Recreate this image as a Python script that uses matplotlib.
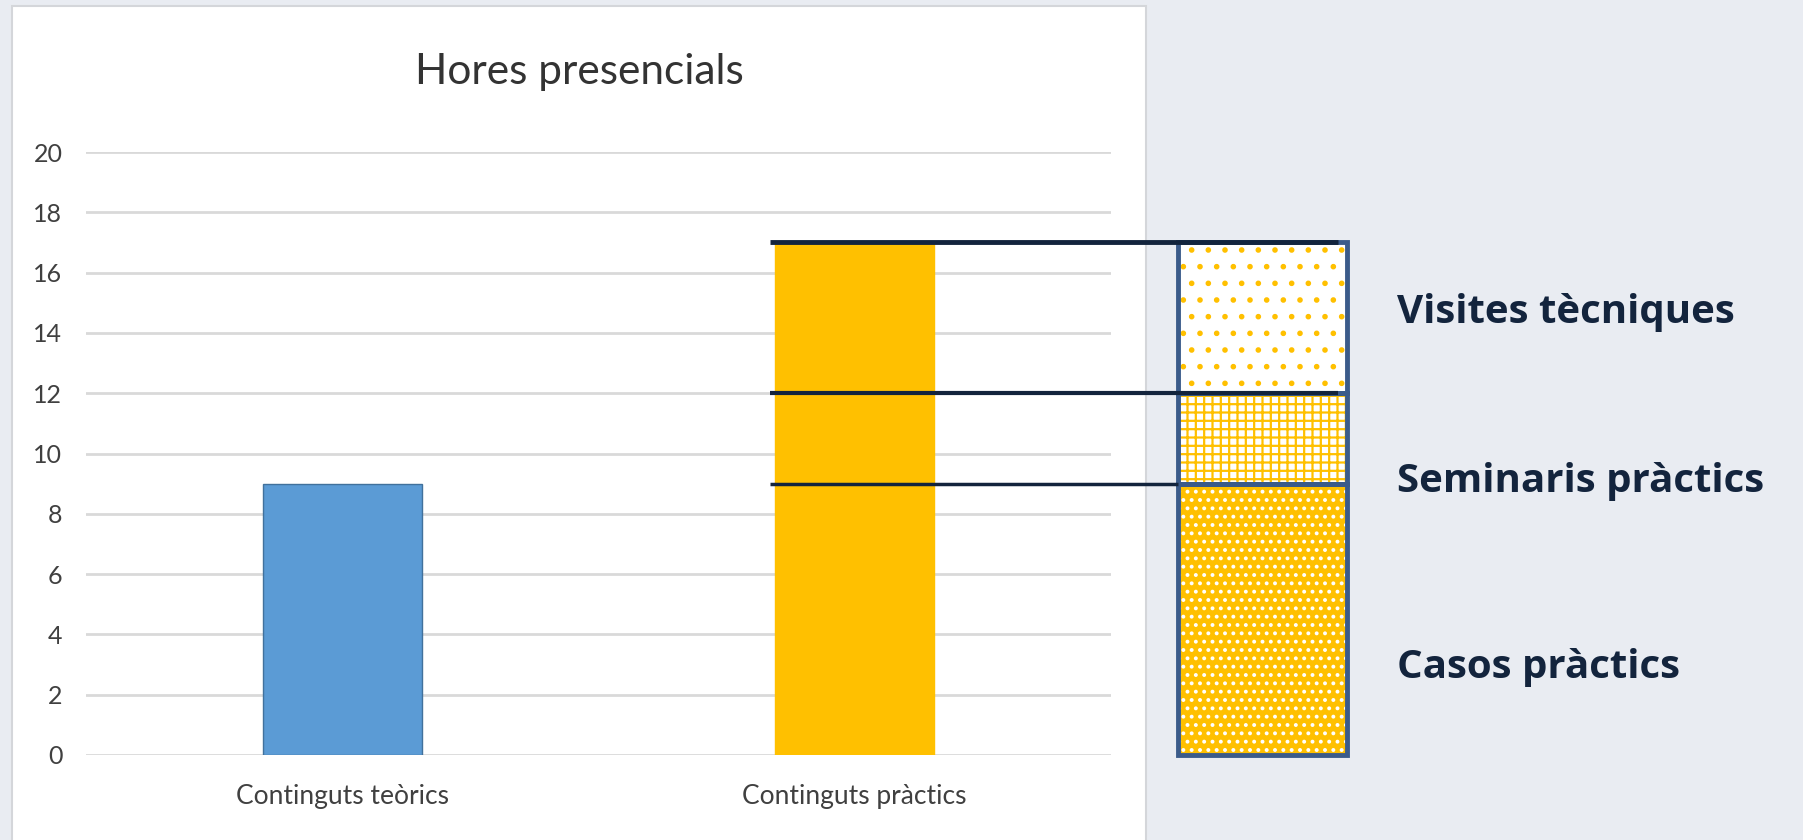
import matplotlib
matplotlib.use("Agg")
import matplotlib.pyplot as plt
from matplotlib.patches import Rectangle
import numpy as np

# ---- data ----
categories = ['Continguts teòrics', 'Continguts pràctics']
hours = [9, 17]
bar_colors = ['#5B9BD5', '#FFC000']

parts = ['Casos pràctics', 'Seminaris pràctics', 'Visites tècniques']
part_hours = [9, 3, 5]

title = 'Hores presencials'
yticks = [0, 2, 4, 6, 8, 10, 12, 14, 16, 18, 20]

# ---- figure ----
W, H = 1803, 840
fig = plt.figure(figsize=(W / 100, H / 100), dpi=100)
fig.patch.set_facecolor('#E9ECF2')

# white chart panel
panel = Rectangle((12 / W, -0.02), 1134 / W, (840 - 6) / H + 0.02,
                  transform=fig.transFigure, facecolor='white',
                  edgecolor='#D4D6DA', linewidth=1.5, zorder=0)
fig.patches.append(panel)

ax = fig.add_axes([86 / W, 85 / H, (1111 - 86) / W, (755 - 152) / H])
ax.set_zorder(2)
ax.set_facecolor('none')
ax.set_xlim(-0.5, 1.5)
ax.set_ylim(0, 20)
for s in ax.spines.values():
    s.set_visible(False)
ax.set_yticks(yticks)
ax.yaxis.grid(True, color='#D9D9D9', linewidth=2)
ax.set_axisbelow(True)
ax.tick_params(length=0)
tick_font = ['Liberation Sans Narrow', 'Lato', 'DejaVu Sans']
ax.set_yticklabels([str(v) for v in yticks], fontsize=18, color='#404040',
                   family=tick_font)
ax.tick_params(axis='y', pad=17)
x = np.arange(len(categories))
ax.bar(x, hours, width=0.31, color=bar_colors,
       edgecolor=['#41719C', '#FFC000'], linewidth=1, zorder=2)
ax.set_xticks(x)
ax.set_xticklabels(categories, fontsize=19, color='#404040', family=tick_font)
ax.tick_params(axis='x', pad=21)

fig.text(579 / W, 1 - 72 / H, title, ha='center', va='center',
         fontsize=30.5, color='#333333', family=tick_font, zorder=3)

# ---- breakdown box ----
box_l, box_r = 1.631, 1.961
bottoms = np.concatenate([[0], np.cumsum(part_hours)[:-1]])
tops = np.cumsum(part_hours)
hatches = ['..', '++', '.']
faces = ['#FFC000', 'white', 'white']
hcolors = ['white', '#FFC000', '#FFC000']
plt.rcParams['hatch.linewidth'] = 1.6
for b, h, hatch, fc, hc in zip(bottoms, part_hours, hatches, faces, hcolors):
    r = Rectangle((box_l, b), box_r - box_l, h, facecolor=fc, hatch=hatch,
                  edgecolor=hc, linewidth=0, clip_on=False, zorder=3)
    ax.add_patch(r)
# outlines of each segment
box_blue = '#3B5B8A'
for b, h in zip(bottoms, part_hours):
    ax.add_patch(Rectangle((box_l, b), box_r - box_l, h, facecolor='none',
                           edgecolor=box_blue, linewidth=3.5, clip_on=False,
                           zorder=4))

# connector lines
navy = '#13243D'
line_x0 = 0.835
ends = [box_l, 1.943, 1.943]
widths = [2.5, 3, 3.5]
for t, xe, lw in zip(tops, ends, widths):
    ax.plot([line_x0, xe], [t, t], color=navy, linewidth=lw,
            solid_capstyle='butt', clip_on=False, zorder=5)

# labels
label_y = [2.55, 8.72, 14.33]
for name, yy in zip(parts, label_y):
    ax.text(2.059, yy, name, ha='left', va='baseline', fontsize=29,
            fontweight='bold', color=navy, clip_on=False,
            family=['Open Sans', 'DejaVu Sans'])

fig.savefig('out.png', dpi=100, facecolor=fig.get_facecolor())
